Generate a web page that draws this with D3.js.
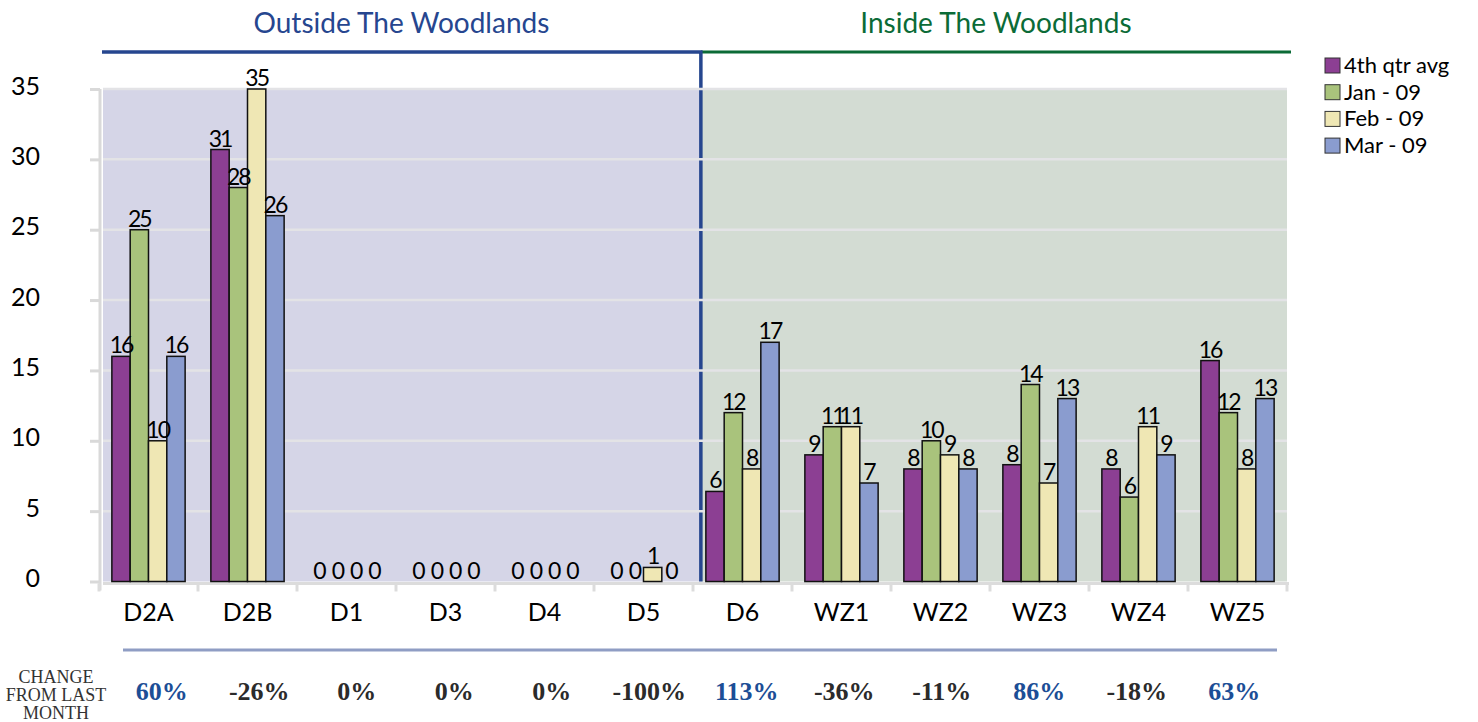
<!DOCTYPE html>
<html>
<head>
<meta charset="utf-8">
<script src="https://cdn.jsdelivr.net/npm/d3@7"></script>
<style>
  html, body { margin: 0; padding: 0; background: #ffffff; }
  svg { display: block; }
</style>
</head>
<body>
<svg id="chart" width="1478" height="722"></svg>
<script>
// ---------------- data ----------------
const categories = ["D2A", "D2B", "D1", "D3", "D4", "D5", "D6", "WZ1", "WZ2", "WZ3", "WZ4", "WZ5"];
const seriesNames = ["4th qtr avg", "Jan - 09", "Feb - 09", "Mar - 09"];
const q4Avg = [16, 30.7, 0, 0, 0, 0, 6.4, 9, 8, 8.3, 8, 15.7];
const jan09 = [25, 28, 0, 0, 0, 0, 12, 11, 10, 14, 6, 12];
const feb09 = [10, 35, 0, 0, 0, 1, 8, 11, 9, 7, 11, 8];
const mar09 = [16, 26, 0, 0, 0, 0, 17, 7, 8, 13, 9, 13];
const changeLabels = ["60%", "-26%", "0%", "0%", "0%", "-100%", "113%", "-36%", "-11%", "86%", "-18%", "63%"];
const changeRowTitle = ["CHANGE", "FROM LAST", "MONTH"];
const yTicks = [0, 5, 10, 15, 20, 25, 30, 35];
const regionTitles = ["Outside The Woodlands", "Inside The Woodlands"];
const firstInsideCategory = "D6";

// ---------------- styles ----------------
const sans = "Lato, 'Open Sans', sans-serif";
const serif = "'Liberation Serif', 'DejaVu Serif', serif";
const seriesColors = ["#8c3f93", "#a9c37c", "#efe7b4", "#8a9ccf"];
const regionBg = ["#d5d5e7", "#d3dcd3"];
const regionLine = ["#26468f", "#0b6b37"];

const svg = d3.select("#chart");
const seriesValues = [q4Avg, jan09, feb09, mar09];

const y = d3.scaleLinear().domain([0, 35]).range([581.5, 89]);
const x0 = d3.scaleBand().domain(categories).range([99, 1287]).paddingInner(0.26).paddingOuter(0.13);
const x1 = d3.scaleBand().domain(seriesNames).range([0, x0.bandwidth()]);

const plotLeft = 103, plotRight = 1287;
const dividerX = x0(firstInsideCategory) - 5;

// region backgrounds
svg.append("rect").attr("x", plotLeft).attr("y", y(35)).attr("width", dividerX - plotLeft)
  .attr("height", y(0) - y(35)).attr("fill", regionBg[0]);
svg.append("rect").attr("x", dividerX).attr("y", y(35)).attr("width", plotRight - dividerX)
  .attr("height", y(0) - y(35)).attr("fill", regionBg[1]);

// region header lines
svg.append("line").attr("x1", dividerX).attr("x2", 1291).attr("y1", 52).attr("y2", 52)
  .attr("stroke", regionLine[1]).attr("stroke-width", 3);
svg.append("path").attr("d", `M102,52 H${dividerX} V${y(0)}`)
  .attr("fill", "none").attr("stroke", regionLine[0]).attr("stroke-width", 3.5);

// gridlines
svg.append("g").selectAll("line").data(yTicks.filter(d => d > 0)).join("line")
  .attr("x1", plotLeft).attr("x2", plotRight)
  .attr("y1", d => y(d)).attr("y2", d => y(d))
  .attr("stroke", "#e3e3e6").attr("stroke-width", 2.5);

// region titles
svg.append("text").attr("x", (102 + dividerX) / 2).attr("y", 33).attr("text-anchor", "middle")
  .style("font-family", sans).attr("font-size", 28).attr("fill", regionLine[0]).text(regionTitles[0]);
svg.append("text").attr("x", (dividerX + 1291) / 2).attr("y", 33).attr("text-anchor", "middle")
  .style("font-family", sans).attr("font-size", 28).attr("fill", regionLine[1]).text(regionTitles[1]);

// y axis
const yAxis = svg.append("g").attr("transform", "translate(100,0)")
  .call(d3.axisLeft(y).tickValues(yTicks).tickSize(10).tickPadding(50).tickFormat(d3.format("d")));
yAxis.select(".domain").attr("stroke", "#d9d9d9").attr("stroke-width", 3)
  .attr("d", `M0,${y(35)}V${y(0) + 9}`);
yAxis.selectAll(".tick line").attr("stroke", "#d9d9d9").attr("stroke-width", 3);
yAxis.selectAll(".tick text").attr("font-size", 25).attr("fill", "#000").attr("dy", "0.2em")
  .style("font-family", sans);

// x axis
const xAxis = svg.append("g").attr("transform", `translate(0,${y(0) + 2})`)
  .call(d3.axisBottom(x0).tickSize(0).tickPadding(20));
xAxis.select(".domain").attr("stroke", "#dcdcdc").attr("stroke-width", 3)
  .attr("d", `M${plotLeft},0H${plotRight + 2}`);
xAxis.selectAll(".tick text").attr("font-size", 25).attr("fill", "#000").style("font-family", sans);
// category separator ticks
xAxis.append("g").selectAll("line").data(categories.concat(["__end"])).join("line")
  .attr("x1", (d, i) => 99 + i * x0.step()).attr("x2", (d, i) => 99 + i * x0.step())
  .attr("y1", 0).attr("y2", 8).attr("stroke", "#dcdcdc").attr("stroke-width", 3);

// bars
const groups = svg.append("g").selectAll("g").data(categories).join("g")
  .attr("transform", d => `translate(${x0(d)},0)`);
groups.selectAll("rect")
  .data((c, ci) => seriesNames.map((s, si) => ({ s, si, v: seriesValues[si][ci] })))
  .join("rect")
  .filter(d => d.v > 0)
  .attr("x", d => x1(d.s)).attr("width", x1.bandwidth())
  .attr("y", d => y(d.v)).attr("height", d => y(0) - y(d.v))
  .attr("fill", d => seriesColors[d.si]).attr("stroke", "#111").attr("stroke-width", 1.5);
groups.selectAll("text.lbl")
  .data((c, ci) => seriesNames.map((s, si) => ({ s, si, v: seriesValues[si][ci] })))
  .join("text").attr("class", "lbl")
  .attr("x", d => x1(d.s) + x1.bandwidth() / 2)
  .attr("y", d => y(d.v) - 3)
  .attr("text-anchor", "middle").attr("font-size", 23).attr("fill", "#000")
  .attr("letter-spacing", -2)
  .style("font-family", sans)
  .text(d => d3.format(".0f")(d.v));

// legend
const legend = svg.append("g").attr("transform", "translate(1325,58)");
const li = legend.selectAll("g").data(seriesNames).join("g")
  .attr("transform", (d, i) => `translate(0,${i * 26.7})`);
li.append("rect").attr("width", 15).attr("height", 15)
  .attr("fill", (d, i) => seriesColors[i]).attr("stroke", "#333").attr("stroke-width", 1);
li.append("text").attr("x", 19).attr("y", 15).attr("font-size", 22).attr("fill", "#000")
  .style("font-family", sans).text(d => d);

// change row
svg.append("line").attr("x1", 123).attr("x2", 1277).attr("y1", 650).attr("y2", 650)
  .attr("stroke", "#8f9dc4").attr("stroke-width", 3);
const cx = d3.scaleBand().domain(categories).range([113, 1283]);
svg.append("g").selectAll("text").data(changeLabels).join("text")
  .attr("x", (d, i) => cx(categories[i]) + cx.bandwidth() / 2)
  .attr("y", 700).attr("text-anchor", "middle")
  .style("font-family", serif).attr("font-weight", "bold")
  .attr("font-size", 26)
  .attr("fill", d => d.startsWith("-") || d === "0%" ? "#2b2b2b" : "#1c4e96")
  .text(d => d);
svg.append("g").selectAll("text").data(changeRowTitle).join("text")
  .attr("x", 56).attr("y", (d, i) => 683 + i * 18).attr("text-anchor", "middle")
  .style("font-family", serif).attr("font-size", 18).attr("fill", "#333")
  .text(d => d);
</script>
</body>
</html>
